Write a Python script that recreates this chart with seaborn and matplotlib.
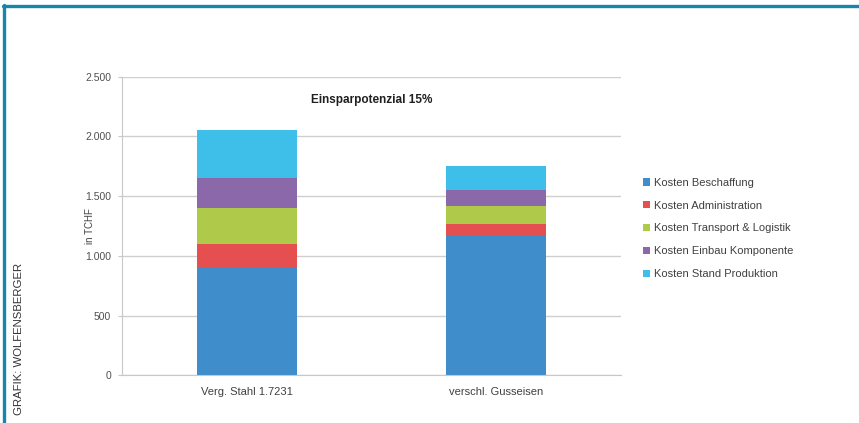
import numpy as np
import pandas as pd
import seaborn as sns
import matplotlib.pyplot as plt
from matplotlib.lines import Line2D
from matplotlib.patches import Patch
from matplotlib.ticker import FuncFormatter

# ---------------- DATA ----------------
categories = ["Verg. Stahl 1.7231", "verschl. Gusseisen"]
series = [
    "Kosten Beschaffung",
    "Kosten Administration",
    "Kosten Transport & Logistik",
    "Kosten Einbau Komponente",
    "Kosten Stand Produktion",
]
beschaffung = [900, 1170]
administration = [200, 100]
transport = [300, 150]
einbau = [250, 130]
stand = [400, 200]
colors = ["#3f8dca", "#e54f50", "#afca4b", "#8b68a9", "#3ebfea"]

values = [beschaffung, administration, transport, einbau, stand]
cum = np.cumsum(np.array(values), axis=0)

sns.set_style("white")
plt.rcParams["font.family"] = ["Liberation Sans", "DejaVu Sans"]

fig = plt.figure(figsize=(8.59, 4.23), dpi=100)
ax = fig.add_axes([0.1425, 0.1127, 0.58, 0.706])

# stacked bars: draw running totals from top down so lower segments overlay
for i in range(len(series) - 1, -1, -1):
    df = pd.DataFrame({"cat": categories, "val": cum[i]})
    sns.barplot(data=df, x="cat", y="val", color=colors[i], width=0.4,
                saturation=1, linewidth=0, edgecolor="none", ax=ax, zorder=2)

ax.set_ylim(0, 2500)
ax.set_xlim(-0.5, 1.5)
ax.set_yticks(range(0, 2501, 500))
ax.yaxis.set_major_formatter(FuncFormatter(lambda v, p: f"{int(v):,}".replace(",", ".")))
ax.yaxis.grid(True, color="#cfcfcf", linewidth=1.0, zorder=0)
ax.set_axisbelow(True)
for s in ["top", "right"]:
    ax.spines[s].set_visible(False)
ax.spines["left"].set_color("#c8c8c8")
ax.spines["bottom"].set_color("#c8c8c8")
ax.tick_params(axis="y", left=True, length=3, color="#c8c8c8", labelsize=7.5,
               labelcolor="#505050", pad=5)
ax.tick_params(axis="x", bottom=False, labelsize=8, labelcolor="#404040", pad=5)
ax.set_xlabel("")
ax.set_ylabel("in TCHF", fontsize=7, color="#404040")
ax.yaxis.set_label_coords(-0.056, 0.5)

ax.text(0.5, 0.922, "Einsparpotenzial 15%", transform=ax.transAxes, ha="center",
        va="center", fontsize=8.5, fontweight="bold", color="#202020")

handles = [Patch(facecolor=c, edgecolor="none") for c in colors]
fig.legend(handles, series, loc="upper left", bbox_to_anchor=(0.737, 0.603),
           frameon=False, fontsize=8, handlelength=0.6, handleheight=0.6,
           handletextpad=0.4, labelspacing=1.15, labelcolor="#404040")

fig.text(0.022, 0.02, "GRAFIK: WOLFENSBERGER", rotation=90, ha="center",
         va="bottom", fontsize=8.2, color="#333333")

# frame
fig.add_artist(Line2D([0.004, 1.0], [0.985, 0.985], transform=fig.transFigure,
                      color="#1786aa", linewidth=2.4))
fig.add_artist(Line2D([0.0045, 0.0045], [0.0, 0.987], transform=fig.transFigure,
                      color="#1786aa", linewidth=2.4))

fig.savefig("out.png", dpi=100)
